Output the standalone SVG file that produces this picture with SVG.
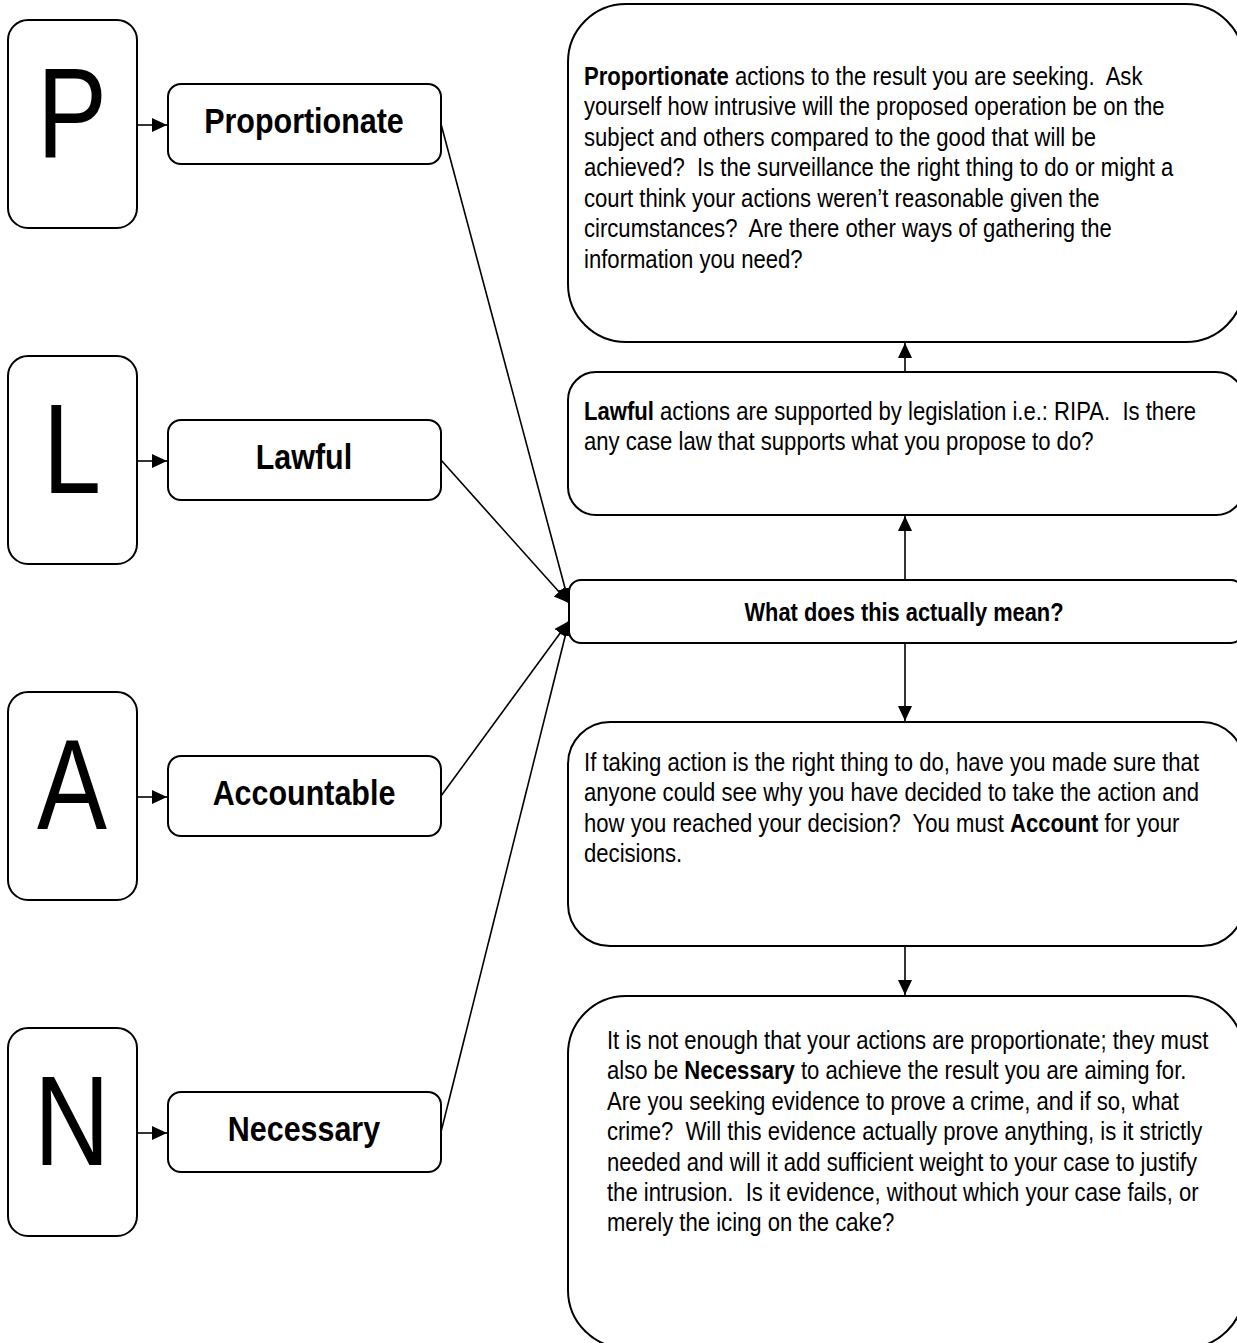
<svg xmlns="http://www.w3.org/2000/svg" width="1237" height="1343" viewBox="0 0 1237 1343">
<style>
  .box { fill: #fff; stroke: #000; stroke-width: 2; }
  .conn { stroke: #000; stroke-width: 1.6; fill: none; }
  text { font-family: "Liberation Sans", Arial, sans-serif; fill: #000; white-space: pre; }
  .big { font-size: 128px; text-anchor: middle; }
  .label { font-size: 35px; font-weight: bold; text-anchor: middle; }
  .body { font-size: 26px; }
  .b { font-weight: bold; }
  .title { font-size: 26px; font-weight: bold; text-anchor: middle; }
</style>
<defs>
  <marker id="ah" markerUnits="userSpaceOnUse" markerWidth="16" markerHeight="16" viewBox="0 0 16 16" refX="15" refY="8" orient="auto">
    <path d="M0,1 L15,8 L0,15 Z" fill="#000"/>
  </marker>
</defs>
<rect width="1237" height="1343" fill="#fff"/>

<g id="connectors">
  <line class="conn" x1="137" y1="125" x2="167" y2="125" marker-end="url(#ah)"/>
  <line class="conn" x1="137" y1="461" x2="167" y2="461" marker-end="url(#ah)"/>
  <line class="conn" x1="137" y1="797" x2="167" y2="797" marker-end="url(#ah)"/>
  <line class="conn" x1="137" y1="1133" x2="167" y2="1133" marker-end="url(#ah)"/>
  <line class="conn" x1="441" y1="124" x2="569" y2="603" marker-end="url(#ah)"/>
  <line class="conn" x1="441" y1="460" x2="569" y2="603" marker-end="url(#ah)"/>
  <line class="conn" x1="441" y1="796" x2="569" y2="621" marker-end="url(#ah)"/>
  <line class="conn" x1="441" y1="1132" x2="569" y2="621" marker-end="url(#ah)"/>
  <line class="conn" x1="905" y1="580" x2="905" y2="516" marker-end="url(#ah)"/>
  <line class="conn" x1="905" y1="372" x2="905" y2="343" marker-end="url(#ah)"/>
  <line class="conn" x1="905" y1="643" x2="905" y2="721" marker-end="url(#ah)"/>
  <line class="conn" x1="905" y1="946" x2="905" y2="995" marker-end="url(#ah)"/>
</g>

<g id="letter-P"><rect class="box" x="8" y="20" width="129" height="208" rx="20"/><text class="big" transform="scale(0.82,1)" x="87.8" y="157">P</text></g>
<g id="letter-L"><rect class="box" x="8" y="356" width="129" height="208" rx="20"/><text class="big" transform="scale(0.82,1)" x="87.8" y="493">L</text></g>
<g id="letter-A"><rect class="box" x="8" y="692" width="129" height="208" rx="20"/><text class="big" transform="scale(0.82,1)" x="87.8" y="829">A</text></g>
<g id="letter-N"><rect class="box" x="8" y="1028" width="129" height="208" rx="20"/><text class="big" transform="scale(0.82,1)" x="87.8" y="1165">N</text></g>

<g id="label-proportionate"><rect class="box" x="168" y="84" width="273" height="80" rx="13"/><text class="label" transform="scale(0.87,1)" x="349.4" y="133">Proportionate</text></g>
<g id="label-lawful"><rect class="box" x="168" y="420" width="273" height="80" rx="13"/><text class="label" transform="scale(0.87,1)" x="349.4" y="469">Lawful</text></g>
<g id="label-accountable"><rect class="box" x="168" y="756" width="273" height="80" rx="13"/><text class="label" transform="scale(0.87,1)" x="349.4" y="805">Accountable</text></g>
<g id="label-necessary"><rect class="box" x="168" y="1092" width="273" height="80" rx="13"/><text class="label" transform="scale(0.87,1)" x="349.4" y="1141">Necessary</text></g>

<g id="center">
  <rect class="box" x="569" y="580" width="674" height="63" rx="12"/>
  <text class="title" transform="scale(0.84,1)" x="1076.2" y="621">What does this actually mean?</text>
</g>

<g id="desc-proportionate">
  <rect class="box" x="568" y="4" width="676" height="338" rx="58"/>
  <g transform="scale(0.85,1)">
    <text class="body" x="687.1" y="85"><tspan class="b">Proportionate</tspan> actions to the result you are seeking.  Ask</text>
    <text class="body" x="687.1" y="115.5">yourself how intrusive will the proposed operation be on the</text>
    <text class="body" x="687.1" y="146">subject and others compared to the good that will be</text>
    <text class="body" x="687.1" y="176.5">achieved?  Is the surveillance the right thing to do or might a</text>
    <text class="body" x="687.1" y="207">court think your actions weren’t reasonable given the</text>
    <text class="body" x="687.1" y="237.5">circumstances?  Are there other ways of gathering the</text>
    <text class="body" x="687.1" y="268">information you need?</text>
  </g>
</g>

<g id="desc-lawful">
  <rect class="box" x="568" y="372" width="676" height="143" rx="28"/>
  <g transform="scale(0.85,1)">
    <text class="body" x="687.1" y="420"><tspan class="b">Lawful</tspan> actions are supported by legislation i.e.: RIPA.  Is there</text>
    <text class="body" x="687.1" y="450">any case law that supports what you propose to do?</text>
  </g>
</g>

<g id="desc-accountable">
  <rect class="box" x="568" y="722" width="676" height="224" rx="42"/>
  <g transform="scale(0.85,1)">
    <text class="body" x="687.1" y="771">If taking action is the right thing to do, have you made sure that</text>
    <text class="body" x="687.1" y="801.5">anyone could see why you have decided to take the action and</text>
    <text class="body" x="687.1" y="832">how you reached your decision?  You must <tspan class="b">Account</tspan> for your</text>
    <text class="body" x="687.1" y="862.5">decisions.</text>
  </g>
</g>

<g id="desc-necessary">
  <rect class="box" x="568" y="996" width="676" height="352" rx="58"/>
  <g transform="scale(0.85,1)">
    <text class="body" x="714.1" y="1049">It is not enough that your actions are proportionate; they must</text>
    <text class="body" x="714.1" y="1079.4">also be <tspan class="b">Necessary</tspan> to achieve the result you are aiming for.</text>
    <text class="body" x="714.1" y="1109.8">Are you seeking evidence to prove a crime, and if so, what</text>
    <text class="body" x="714.1" y="1140.2">crime?  Will this evidence actually prove anything, is it strictly</text>
    <text class="body" x="714.1" y="1170.6">needed and will it add sufficient weight to your case to justify</text>
    <text class="body" x="714.1" y="1201">the intrusion.  Is it evidence, without which your case fails, or</text>
    <text class="body" x="714.1" y="1231.4">merely the icing on the cake?</text>
  </g>
</g>
</svg>
